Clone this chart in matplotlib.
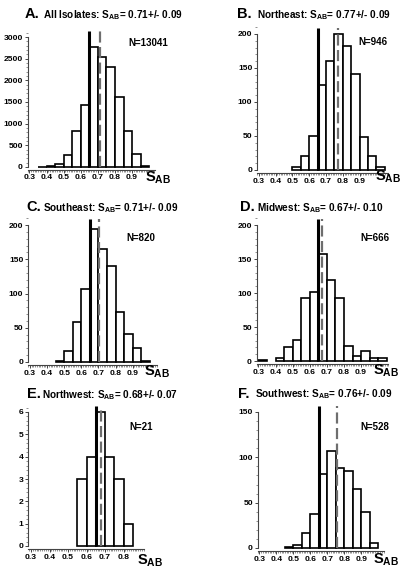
import matplotlib
matplotlib.use("Agg")
import matplotlib.pyplot as plt
from matplotlib.ticker import MultipleLocator

W, H = 402, 570

plt.rcParams['font.family'] = ['Liberation Sans', 'DejaVu Sans']
plt.rcParams['font.weight'] = 'bold'

# histogram bins (left edges, width 0.05)
bin_starts = [0.30, 0.35, 0.40, 0.45, 0.50, 0.55, 0.60, 0.65,
              0.70, 0.75, 0.80, 0.85, 0.90, 0.95, 1.00]
bin_width = 0.05

counts_all = [0, 5, 15, 68, 280, 833, 1439, 2773, 2545, 2318, 1621, 826, 295, 30, 0]
counts_ne = [0, 0, 0, 0, 4, 20, 50, 125, 160, 200, 183, 141, 49, 20, 5]
counts_se = [0, 0, 0, 2, 16, 59, 107, 194, 165, 140, 73, 41, 20, 2, 0]
counts_mw = [1, 0, 5, 21, 31, 93, 102, 157, 119, 93, 22, 8, 14, 4, 4]
counts_nw = [0, 0, 0, 0, 0, 3, 4, 6, 4, 3, 1, 0, 0, 0, 0]
counts_sw = [0, 0, 0, 1, 3, 17, 38, 82, 107, 88, 85, 65, 40, 6, 0]

letters = ["A.", "B.", "C.", "D.", "E.", "F."]
regions = ["All Isolates", "Northeast", "Southeast", "Midwest", "Northwest", "Southwest"]
means = [0.71, 0.77, 0.71, 0.67, 0.68, 0.76]
sds = [0.09, 0.09, 0.09, 0.10, 0.07, 0.09]
n_labels = ["N=13041", "N=946", "N=820", "N=666", "N=21", "N=528"]
dash_pos = [0.715, 0.77, 0.705, 0.67, 0.68, 0.755]
threshold = 0.65
ymaxes = [3000, 200, 200, 200, 6, 150]
ysteps = [500, 50, 50, 50, 1, 50]
yminor = [100, 10, 10, 10, 0.2, 10]
xtick_vals = [0.3, 0.4, 0.5, 0.6, 0.7, 0.8, 0.9]
xtick_vals_e = [0.3, 0.4, 0.5, 0.6, 0.7, 0.8]
all_counts = [counts_all, counts_ne, counts_se, counts_mw, counts_nw, counts_sw]

# layout in pixels: x of 0.3, px per unit, xlim, y of zero, px height of ymax
layout = [
    (29.5, 171, (0.29, 1.035), 167, 130),
    (258.9, 168, (0.29, 1.07), 170, 136),
    (30.0, 171, (0.29, 1.04), 362, 137),
    (258.5, 171, (0.29, 1.06), 361, 136),
    (31.0, 185, (0.285, 0.91), 546, 134),
    (259.5, 170, (0.29, 1.03), 548, 136),
]
title_pos = [(25, 43, 18.5), (237, 257, 18.5), (26, 43, 211.5),
             (240, 257, 211.5), (27, 42, 398), (238, 255, 397.5)]
n_pos = [(148, 43), (373, 42), (141, 238), (375, 238), (141, 427), (375, 427)]
s_pos = [(145, 178), (375, 177), (144, 372), (373, 371), (137, 561), (373, 560)]

fig = plt.figure(figsize=(W / 100, H / 100), dpi=100)

pad = 0.02
for i in range(6):
    x0, sx, (xa, xb), y0, h0 = layout[i]
    ymax = ymaxes[i]
    left = x0 + (xa - 0.3) * sx
    width = (xb - xa) * sx
    bottom = y0 + pad * h0
    height = (1.05 + pad) * h0
    ax = fig.add_axes([left / W, 1 - bottom / H, width / W, height / H])

    xs = [b for b, c in zip(bin_starts, all_counts[i]) if c > 0]
    cs = [c for c in all_counts[i] if c > 0]
    ax.bar(xs, cs, width=bin_width, align='edge', color='white',
           edgecolor='black', linewidth=1.2, zorder=2)
    ax.vlines(threshold, 0, 1.045 * ymax, color='black', linewidth=2.2, zorder=3)
    ax.vlines(dash_pos[i], 0, 1.045 * ymax, color='#6e6e6e', linewidth=1.6,
              linestyles=(0, (5, 2)), zorder=3)

    ax.set_xlim(xa, xb)
    ax.set_ylim(-pad * ymax, 1.05 * ymax)
    ax.spines['top'].set_visible(False)
    ax.spines['right'].set_visible(False)
    ax.spines['left'].set_bounds(0, ymax)
    ax.spines['left'].set_color('#444444')
    ax.spines['bottom'].set_color('#444444')
    ax.spines['left'].set_linewidth(0.8)
    ax.spines['bottom'].set_linewidth(0.8)
    ax.spines['bottom'].set_position(('data', -pad * ymax))

    ax.set_yticks(list(range(0, ymax + 1, ysteps[i])))
    ax.yaxis.set_minor_locator(MultipleLocator(yminor[i]))
    xt = xtick_vals_e if i == 4 else xtick_vals
    ax.set_xticks(xt)
    ax.set_xticklabels([f"{v:.1f}" for v in xt])
    ax.xaxis.set_minor_locator(MultipleLocator(0.01))
    ax.tick_params(axis='both', which='major', labelsize=6.1, length=2,
                   width=0.7, pad=1.5, colors='#444444', labelcolor='black')
    ax.tick_params(axis='both', which='minor', length=1.2, width=0.5,
                   colors='#666666')
    for lab in ax.get_xticklabels() + ax.get_yticklabels():
        lab.set_fontweight('bold')

    lx, rx, by = title_pos[i]
    fig.text(lx / W, 1 - by / H, letters[i], fontsize=10.5, fontweight='bold',
             ha='left', va='baseline')
    fig.text(rx / W, 1 - by / H,
             f"{regions[i]}: S$_\\mathregular{{AB}}$= {means[i]:.2f}+/- {sds[i]:.2f}",
             fontsize=7.2, fontweight='bold', ha='left', va='baseline')

    nx, ny = n_pos[i]
    fig.text(nx / W, 1 - ny / H, n_labels[i], fontsize=7, fontweight='bold',
             ha='center', va='center')

    sxp, syp = s_pos[i]
    fig.text(sxp / W, 1 - syp / H, "S$_\\mathregular{AB}$", fontsize=10.5,
             fontweight='bold', ha='left', va='center')

fig.savefig("out.png", dpi=100, facecolor='white')
